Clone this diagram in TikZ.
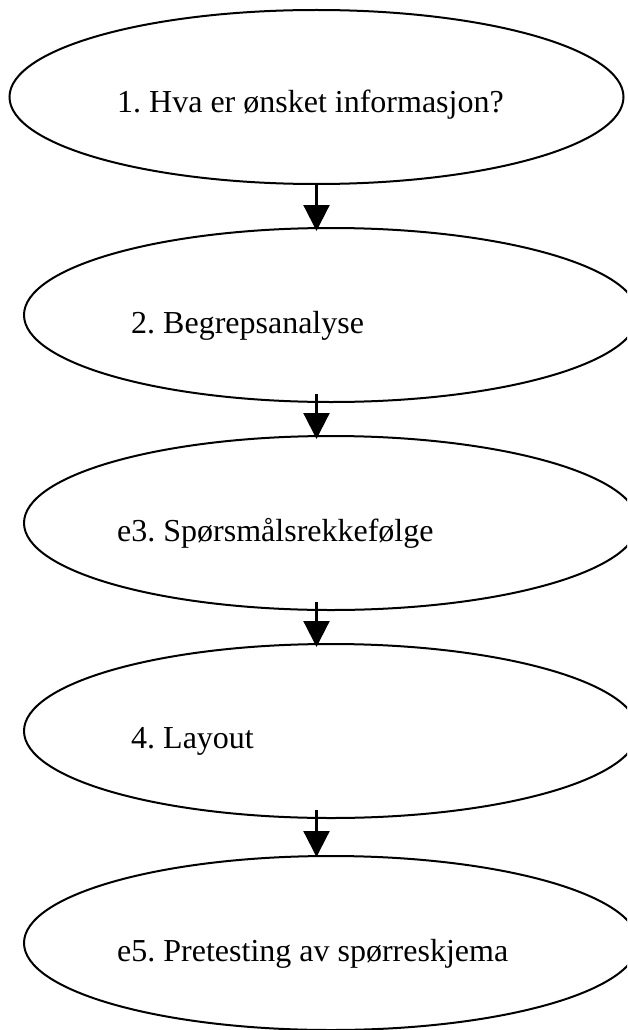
\documentclass[tikz,border=0pt]{standalone}
\usepackage{fontspec}
\setmainfont{Liberation Serif}
\frenchspacing
\usetikzlibrary{shapes.geometric}
\usetikzlibrary{arrows.meta}

\begin{document}
\begin{tikzpicture}[x=1pt,y=-1pt,
        stage/.style={draw=black,line width=2pt,ellipse,inner sep=0pt,
            minimum width=614pt,minimum height=174pt},
        stagetext/.style={anchor=base west,inner sep=0pt,
            font=\fontsize{32}{38}\selectfont},
        flow/.style={black,line width=2.2pt,-{Triangle[width=26pt,length=26pt]}}]
        \useasboundingbox (0,0) rectangle (627,1030);
        \clip (0,0) rectangle (627,1030);

        \node[stage] (e1) at (316.5,97) {};
        \node[stage] (e2) at (331,315) {};
        \node[stage] (e3) at (331,523) {};
        \node[stage] (e4) at (331,731) {};
        \node[stage] (e5) at (331,943) {};

        \node[stagetext] (t1) at (117,113) {1. Hva er ønsket informasjon?};
        \node[stagetext] (t2) at (131,333) {2. Begrepsanalyse};
        \node[stagetext] (t3) at (117,541) {e3. Spørsmålsrekkefølge};
        \node[stagetext] (t4) at (131,748) {4. Layout};
        \node[stagetext] (t5) at (117,961) {e5. Pretesting av spørreskjema};

        \draw[flow] (e1.south) -- ([yshift=-4pt]e2.north -| e1.south);
        \draw[flow] ([yshift=9pt]e2.south -| e1.south) -- ([yshift=-4pt]e3.north -| e1.south);
        \draw[flow] ([yshift=9pt]e3.south -| e1.south) -- ([yshift=-4pt]e4.north -| e1.south);
        \draw[flow] ([yshift=9pt]e4.south -| e1.south) -- ([yshift=-2pt]e5.north -| e1.south);
    \end{tikzpicture}
\end{document}
